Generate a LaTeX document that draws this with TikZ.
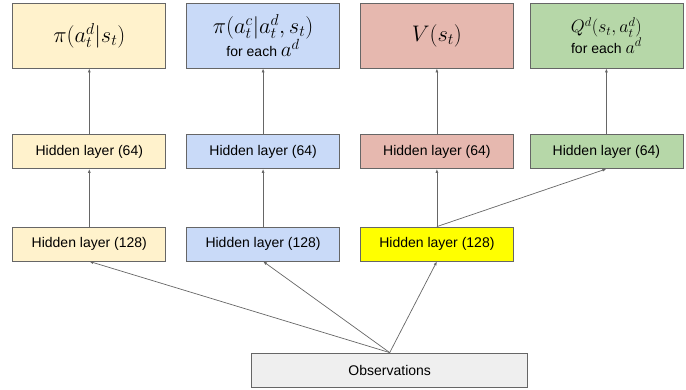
\RequirePackage{fix-cm}
\documentclass[tikz,border=0pt]{standalone}
\usepackage{amsmath}
\usepackage{fontspec}
\setmainfont{Liberation Sans}
\usetikzlibrary{positioning}
\usetikzlibrary{arrows.meta}
\definecolor{piyellow}{HTML}{FFF2CC}
\definecolor{mublue}{HTML}{C9DAF8}
\definecolor{vred}{HTML}{E6B8AF}
\definecolor{qgreen}{HTML}{B6D7A8}
\definecolor{sharedyellow}{HTML}{FFFF00}
\definecolor{obsgray}{HTML}{EFEFEF}
\tikzset{
  box/.style            = { rectangle, minimum width=153pt, minimum height=34pt, inner sep=0pt },
  border/.style         = { line width=0.8pt, draw=black!60 },
}
\tikzset{
  layer/.style={
    box,
    border,
    text centered,
    font=\fontsize{14}{16}\selectfont
  },
  head/.style           = { layer, minimum height=65pt, align=center },
  link/.style           = { line width=0.7pt, draw=black!60, -{Latex[length=4pt,width=3pt]} }
}
\newcommand{\bigmath}[1]{{\fontsize{22.5}{24}\selectfont$#1$}}

\begin{document}
\begin{tikzpicture}[x=1pt, y=-1pt, node distance=20pt]
  \useasboundingbox (0,0) rectangle (686,390);
  \node (obs)   [layer,fill=obsgray,minimum width=276pt] at (389.7,370) {Observations};
  \node (pi128) [layer,fill=piyellow] at (89.3,244)         {Hidden layer (128)};
  \node (mu128) [layer,fill=mublue,right=of pi128]          {Hidden layer (128)};
  \node (v128)  [layer,fill=sharedyellow,right=of mu128]    {Hidden layer (128)};
  \node (pi64)  [layer,fill=piyellow,above=57.7pt of pi128] {Hidden layer (64)};
  \node (mu64)  [layer,fill=mublue,right=of pi64]           {Hidden layer (64)};
  \node (v64)   [layer,fill=vred,right=of mu64]             {Hidden layer (64)};
  \node (q64)   [layer,fill=qgreen,right=15.7pt of v64]     {Hidden layer (64)};
  \node (pi)    [head,fill=piyellow,above=65.7pt of pi64]   {\bigmath{\pi(a_t^d|s_t)}};
  \node (mu)    [head,fill=mublue,above=65.7pt of mu64]
        {\bigmath{\pi(a_t^c|a_t^d,s_t)}\\[-1pt]for each {\fontsize{21}{22}\selectfont$a^d$}};
  \node (v)     [head,fill=vred,above=65.7pt of v64]        {\bigmath{V(s_t)}};
  \node (q)     [head,fill=qgreen,above=65.7pt of q64]
        {{\fontsize{18}{20}\selectfont$Q^d(s_t,a_t^d)$}\\for each {\fontsize{18}{20}\selectfont$a^d$}};

  \draw [link] (obs.north) -- (pi128.south);
  \draw [link] (obs.north) -- (mu128.south);
  \draw [link] (obs.north) -- (v128.south);

  \draw [link] (pi128) -- (pi64);
  \draw [link] (mu128) -- (mu64);
  \draw [link] (v128)  -- (v64);
  \draw [link] (v128.north) -- (q64.south);

  \draw [link] (pi64) -- (pi);
  \draw [link] (mu64) -- (mu);
  \draw [link] (v64)  -- (v);
  \draw [link] (q64)  -- (q);
\end{tikzpicture}
\end{document}
